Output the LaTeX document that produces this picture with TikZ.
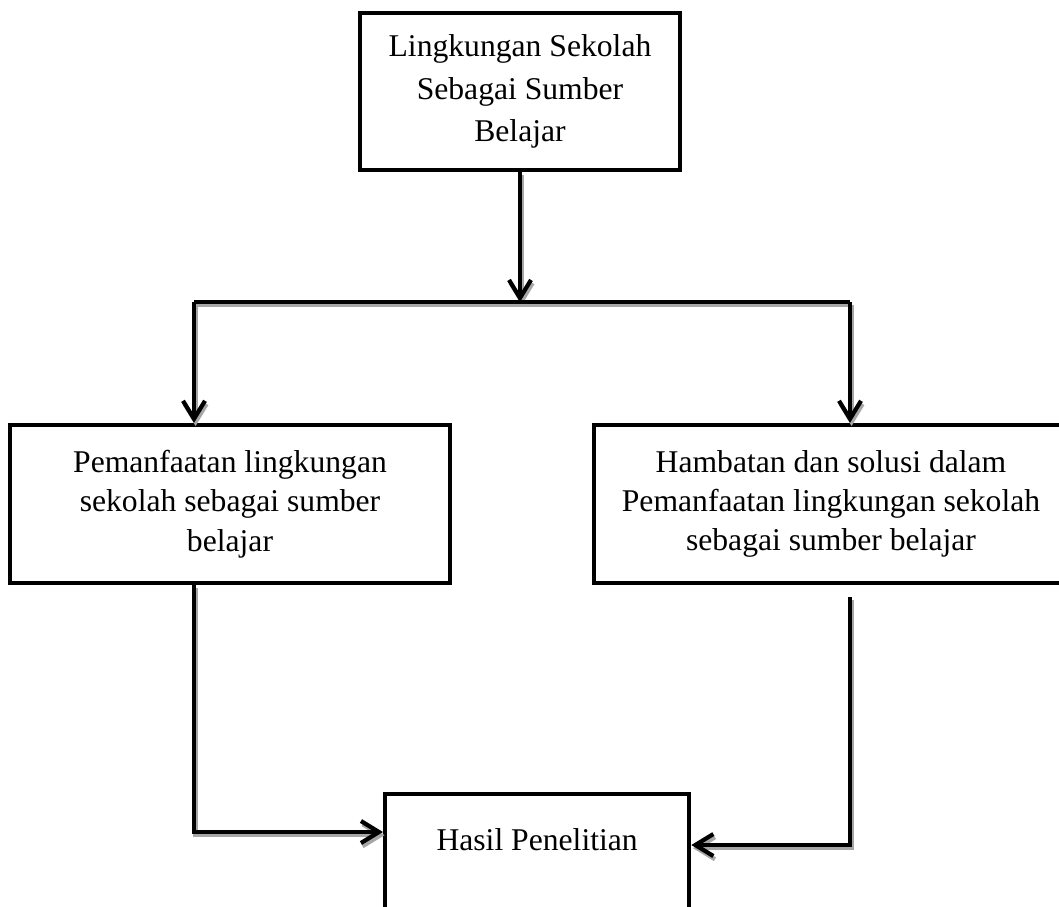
\documentclass[tikz,border=0pt]{standalone}
\usepackage{fontspec}
\setmainfont{Liberation Serif}
\usetikzlibrary{arrows.meta}

\begin{document}
\begin{tikzpicture}[x=0.025cm, y=-0.025cm, line width=3pt,
  >={Straight Barb[length=4.5mm,width=5.5mm]},
  every box/.style={draw, align=center, inner sep=0pt,
    font=\fontsize{22.5}{28}\selectfont},
  bayang/.style={preaction={draw, black!35,
    transform canvas={shift={(0.04cm,-0.08cm)}}}}]

\useasboundingbox (0,0) rectangle (1059,907);
\clip (0,0) rectangle (1059,907);

\node [every box, minimum width=8cm, minimum height=3.925cm,
  font=\fontsize{22.5}{30}\selectfont] (sumber) at (520,91.5)
  {Lingkungan Sekolah\\Sebagai Sumber\\Belajar};

\node [every box, minimum width=11cm, minimum height=3.95cm] (pemanfaatan) at (230,504)
  {Pemanfaatan lingkungan\\sekolah sebagai sumber\\belajar};

\node [every box, minimum width=11.85cm, minimum height=3.95cm] (hambatan) at (831,504)
  {Hambatan dan solusi dalam\\Pemanfaatan lingkungan sekolah\\sebagai sumber belajar};

\node [every box, anchor=north west, minimum width=7.6cm,
  text height=1.4cm, text depth=3.6cm] (hasil) at (383,792) {Hasil Penelitian};

\coordinate (cabang-1) at (194,302);
\coordinate (cabang-2) at (850,302);

\draw [->, bayang] (sumber) -- (sumber |- cabang-1);
\draw [bayang] (cabang-1) -- (cabang-2);

\foreach \c/\b in {1/pemanfaatan, 2/hambatan}
  \draw [->, bayang] (cabang-\c) -- (cabang-\c |- \b.north);

\draw [->, bayang] (cabang-1 |- pemanfaatan.south) |- ([yshift=-1cm]hasil.north west);
\draw [->, bayang] ([yshift=-0.3cm]cabang-2 |- hambatan.south) |- ([yshift=-1.325cm]hasil.north east);
\end{tikzpicture}
\end{document}
